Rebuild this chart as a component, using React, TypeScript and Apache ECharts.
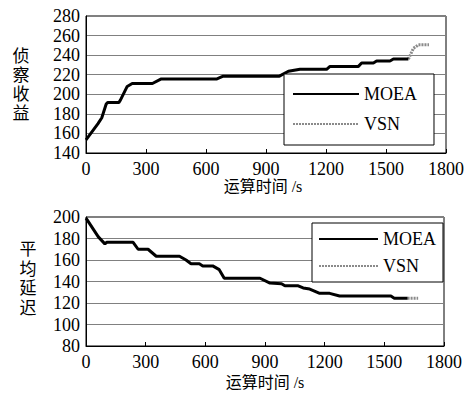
import React, { useEffect, useRef } from "react";
import * as echarts from "echarts";

// Top chart: 侦察收益 vs 运算时间
const topMoeaTime = [0, 60, 79, 101, 108, 164, 172, 206, 231, 332, 374, 652, 686, 967, 1012, 1070, 1203, 1220, 1362, 1378, 1437, 1453, 1520, 1537, 1612];
const topMoeaGain = [153.5, 170, 176, 190, 191.5, 191.5, 194, 208, 211, 211, 215.5, 215.5, 218.5, 218.5, 223.5, 225.5, 225.5, 228.5, 228.5, 232, 232, 234, 234, 236, 236];
const topVsnTailTime = [1612, 1637, 1662, 1715];
const topVsnTailGain = [236, 247, 250.5, 250.5];

// Bottom chart: 平均延迟 vs 运算时间
const botMoeaTime = [0, 62, 95, 105, 237, 262, 312, 353, 470, 503, 528, 570, 587, 637, 670, 695, 875, 925, 983, 1000, 1067, 1092, 1125, 1175, 1225, 1275, 1533, 1550, 1617];
const botMoeaDelay = [199, 181.5, 175, 176.5, 176.5, 170, 170, 163.5, 163.5, 160, 156.5, 156.5, 154.5, 154.5, 151, 143, 143, 138.5, 138, 136, 136, 134, 133, 129, 129, 126.5, 126.5, 124.5, 124.5];
const botVsnTailTime = [1617, 1670];
const botVsnTailDelay = [124.5, 124.5];

const seriesNames = ["MOEA", "VSN"];
const xTicks = { min: 0, max: 1800, interval: 300 };
const topY = { min: 140, max: 280, interval: 20 };
const botY = { min: 80, max: 200, interval: 20 };

const pairs = (xs: number[], ys: number[]) => xs.map((x, i) => [x, ys[i]]);

const SERIF = "'Liberation Serif', 'Times New Roman', serif";
const CJK = "'Liberation Serif', 'Noto Sans CJK SC', serif";

export default function App() {
  const ref = useRef<HTMLDivElement>(null);
  useEffect(() => {
    if (!ref.current) return;
    const chart = echarts.init(ref.current, undefined, { renderer: "svg" });

    const labelStyle = { color: "#000", fontFamily: SERIF, fontSize: 18, fontWeight: "normal" as const };

    const xAxisBase = (gridIndex: number) => ({
      type: "value" as const,
      gridIndex,
      min: xTicks.min,
      max: xTicks.max,
      interval: xTicks.interval,
      axisLine: { show: true, lineStyle: { color: "#000", width: 1 } },
      axisTick: { show: true, inside: true, length: 4, lineStyle: { color: "#000" } },
      axisLabel: { ...labelStyle, margin: 7, hideOverlap: false, formatter: (v: number) => String(v) },
      splitLine: { show: false },
    });
    const yAxisBase = (gridIndex: number, r: { min: number; max: number; interval: number }) => ({
      type: "value" as const,
      gridIndex,
      min: r.min,
      max: r.max,
      interval: r.interval,
      axisLine: { show: true, lineStyle: { color: "#000", width: 1 } },
      axisTick: { show: false },
      axisLabel: { ...labelStyle, margin: 6, hideOverlap: false, formatter: (v: number) => String(v) },
      splitLine: { show: true, lineStyle: { color: "#808080", width: 1 } },
    });

    const moeaStyle = { color: "#000", width: 3, type: "solid" as const };
    const vsnStyle = { color: "#8a8a8a", width: 3, type: [2, 1] as any };

    const legendBase = {
      orient: "vertical" as const,
      backgroundColor: "#fff",
      borderColor: "#000",
      borderWidth: 1,
      borderRadius: 0,
      itemHeight: 17,
      data: seriesNames,
      itemStyle: { opacity: 0 },
      textStyle: { color: "#000", fontFamily: SERIF, fontSize: 18, lineHeight: 17 },
      z: 10,
    };

    chart.setOption({
      animation: false,
      backgroundColor: "#fff",
      textStyle: { fontFamily: SERIF },
      grid: [
        { left: 86, top: 16, width: 360, height: 137, show: true, borderColor: "#000", borderWidth: 1, backgroundColor: "transparent" },
        { left: 86, top: 217, width: 358, height: 129, show: true, borderColor: "#000", borderWidth: 1, backgroundColor: "transparent" },
      ],
      xAxis: [xAxisBase(0), xAxisBase(1)],
      yAxis: [yAxisBase(0, topY), yAxisBase(1, botY)],
      legend: [
        {
          ...legendBase,
          left: 284,
          top: 74,
          itemWidth: 66,
          itemGap: 12,
          padding: [11, 17, 12, 8],
        },
        {
          ...legendBase,
          left: 312,
          top: 223,
          itemWidth: 59,
          itemGap: 9,
          padding: [7, 7, 7, 6],
        },
      ],
      series: [
        {
          name: "VSN",
          type: "line",
          xAxisIndex: 0,
          yAxisIndex: 0,
          symbol: "none",
          lineStyle: vsnStyle,
          itemStyle: { color: "#8a8a8a" },
          data: pairs(topVsnTailTime, topVsnTailGain),
          z: 2,
        },
        {
          name: "MOEA",
          type: "line",
          xAxisIndex: 0,
          yAxisIndex: 0,
          symbol: "none",
          lineStyle: moeaStyle,
          itemStyle: { color: "#000" },
          data: pairs(topMoeaTime, topMoeaGain),
          z: 3,
        },
        {
          name: "VSN",
          type: "line",
          xAxisIndex: 1,
          yAxisIndex: 1,
          symbol: "none",
          lineStyle: vsnStyle,
          itemStyle: { color: "#8a8a8a" },
          data: pairs(botVsnTailTime, botVsnTailDelay),
          z: 2,
        },
        {
          name: "MOEA",
          type: "line",
          xAxisIndex: 1,
          yAxisIndex: 1,
          symbol: "none",
          lineStyle: moeaStyle,
          itemStyle: { color: "#000" },
          data: pairs(botMoeaTime, botMoeaDelay),
          z: 3,
        },
      ],
      graphic: [
        {
          type: "text",
          x: 21,
          y: 85,
          style: {
            text: "侦\n察\n收\n益",
            fontFamily: CJK,
            fontSize: 17,
            lineHeight: 19,
            fill: "#000",
            align: "center",
            verticalAlign: "middle",
          },
        },
        {
          type: "text",
          x: 28,
          y: 279,
          style: {
            text: "平\n均\n延\n迟",
            fontFamily: CJK,
            fontSize: 17,
            lineHeight: 19.5,
            fill: "#000",
            align: "center",
            verticalAlign: "middle",
          },
        },
        {
          type: "text",
          x: 263,
          y: 186,
          style: { text: "运算时间 /s", fontFamily: CJK, fontSize: 16, fill: "#000", align: "center", verticalAlign: "middle" },
        },
        {
          type: "text",
          x: 265,
          y: 382,
          style: { text: "运算时间 /s", fontFamily: CJK, fontSize: 16, fill: "#000", align: "center", verticalAlign: "middle" },
        },
      ],
    });
    return () => chart.dispose();
  }, []);
  return <div ref={ref} style={{ position: "absolute", left: 0, top: 0, width: 475, height: 393 }} />;
}
